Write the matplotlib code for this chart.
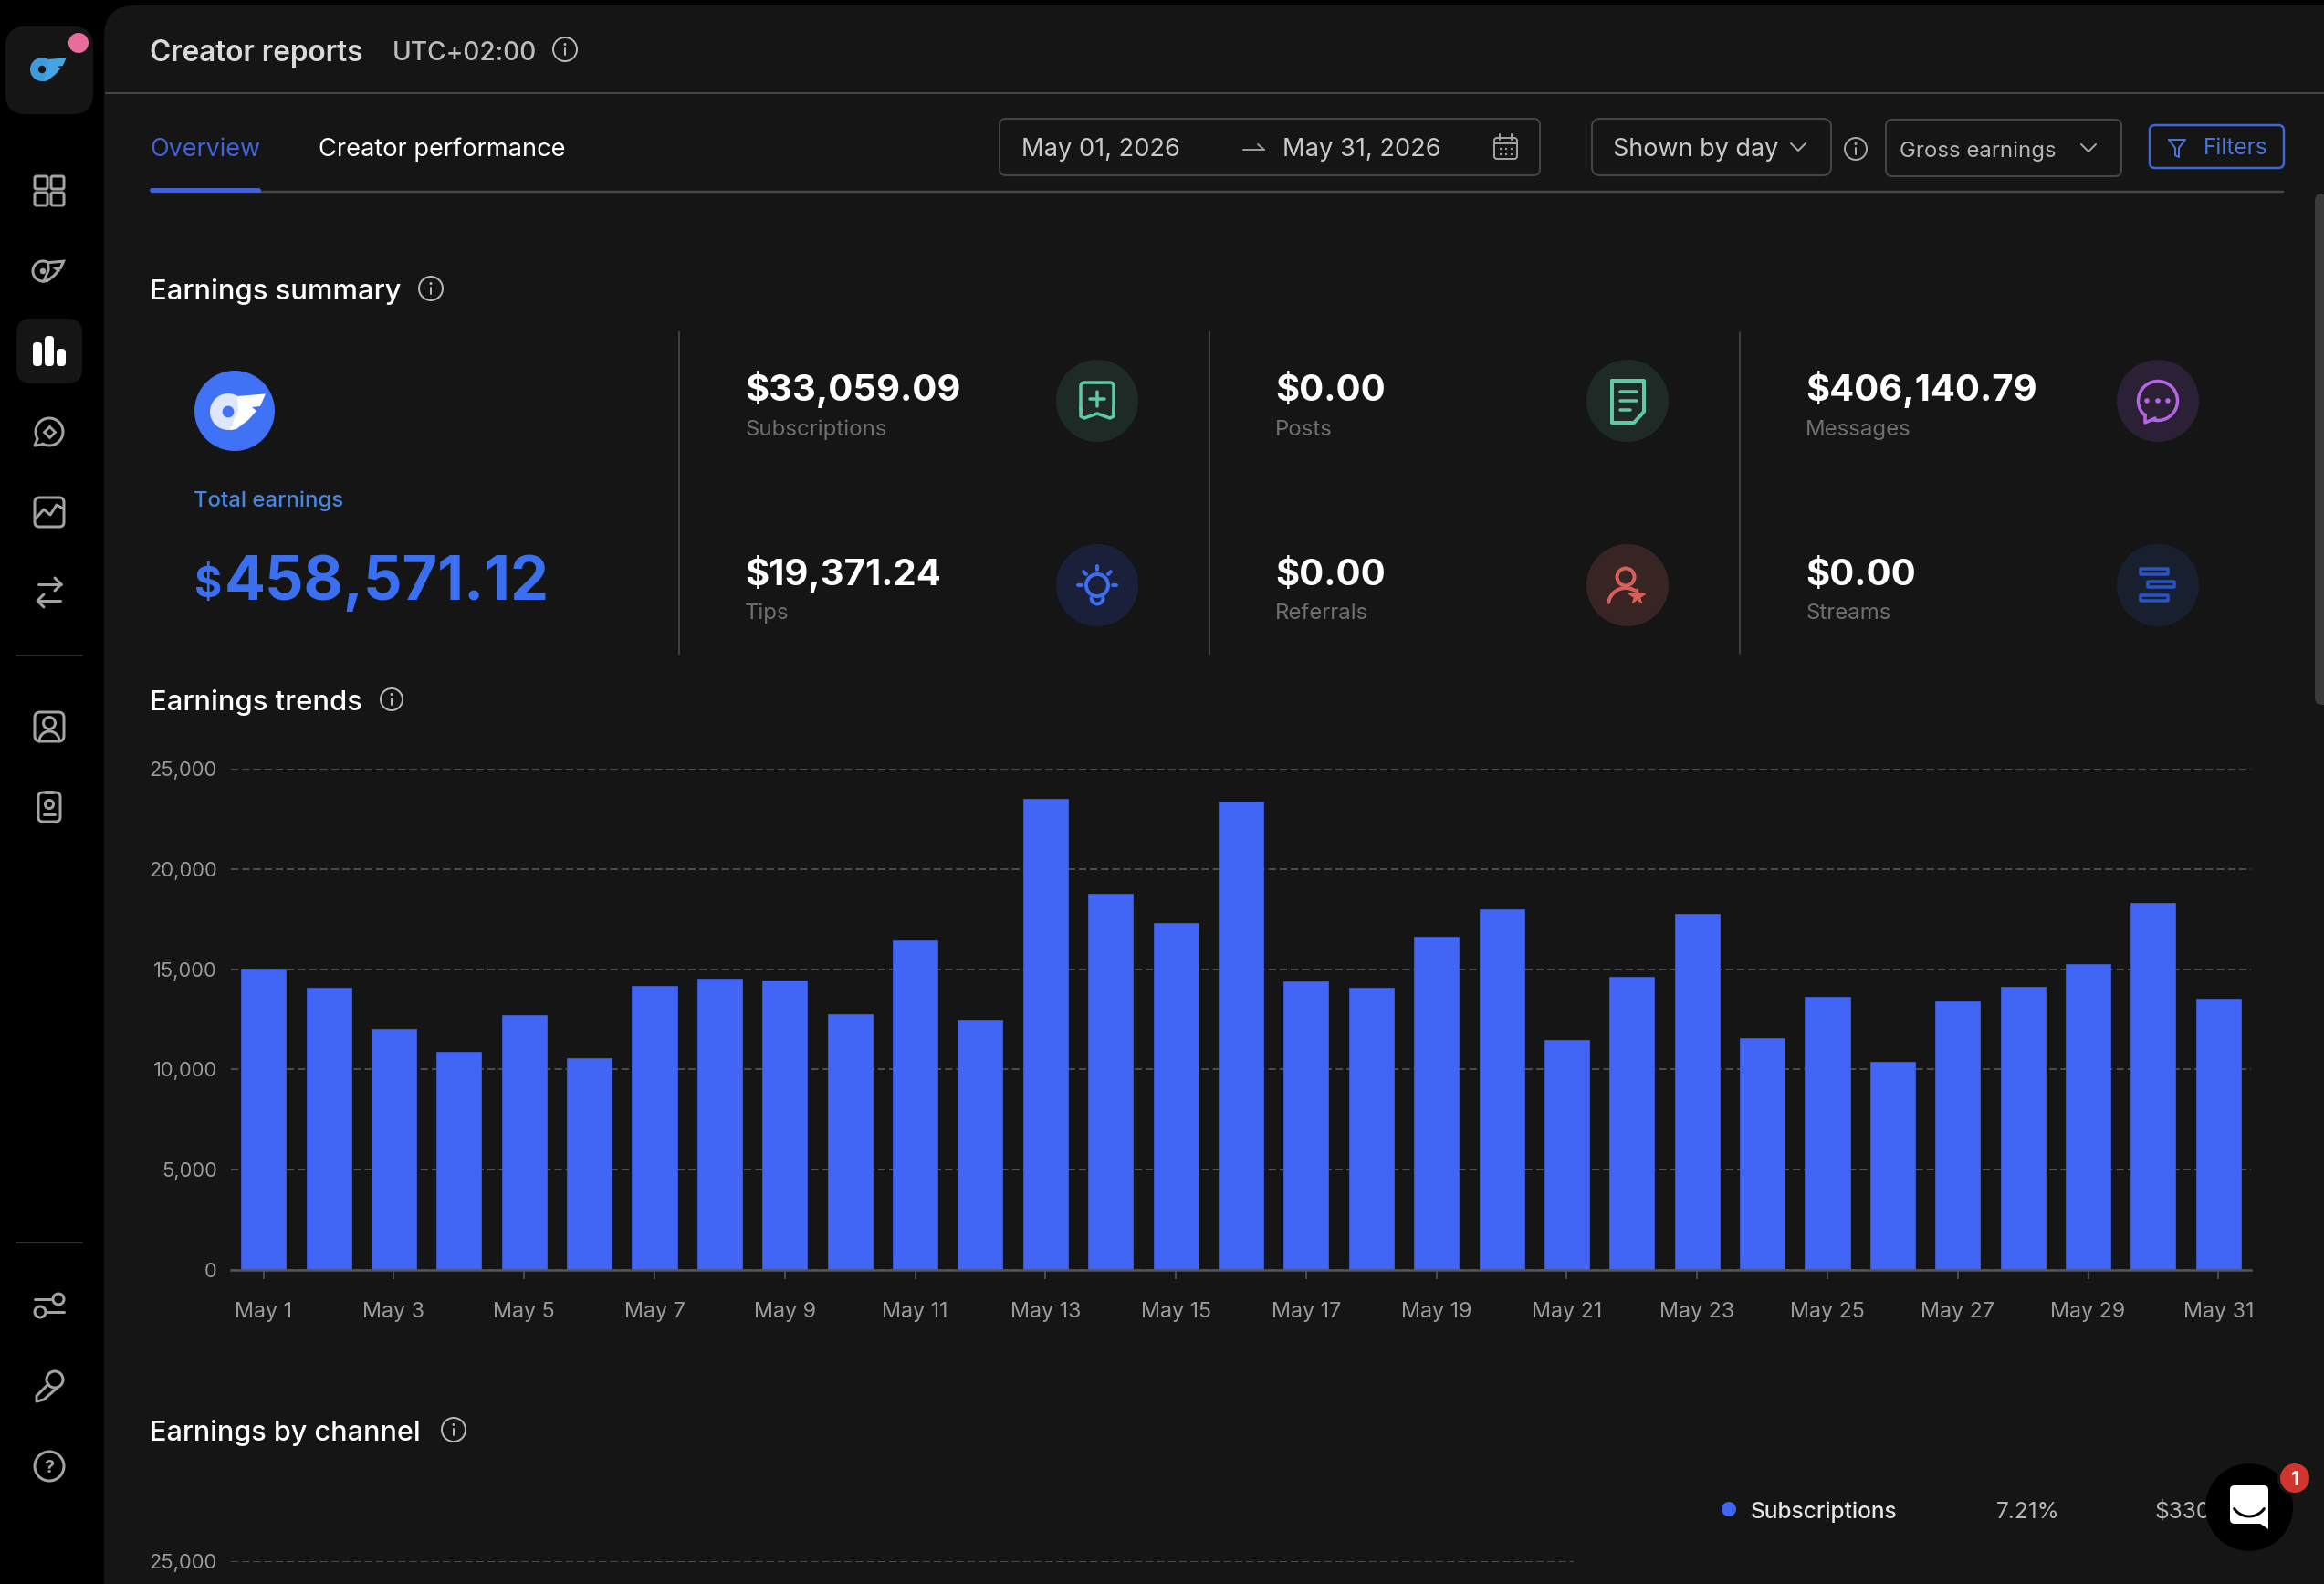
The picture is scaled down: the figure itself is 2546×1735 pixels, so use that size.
import matplotlib
matplotlib.use('Agg')
import numpy as np
from matplotlib import pyplot as plt
from matplotlib import patches

plt.rcParams['font.family'] = ['Inter', 'DejaVu Sans']

# chart data
days = ['May %d' % d for d in range(1, 32)]
earnings = [15015, 14088, 12024, 10886, 12694, 10581, 14165, 14528, 14452, 12766, 16428,
            12480, 23487, 18751, 17321, 23351, 14392, 14060, 16638, 17990, 11477, 14607,
            17750, 11555, 13618, 10371, 13449, 14119, 15245, 18309, 13527]
y_ticks = [0, 5000, 10000, 15000, 20000, 25000]
channel_ticks = [25000]

# summary cards
col1_values = ['$33,059.09', '$19,371.24']
col1_labels = ['Subscriptions', 'Tips']
col2_values = ['$0.00', '$0.00']
col2_labels = ['Posts', 'Referrals']
col3_values = ['$406,140.79', '$0.00']
col3_labels = ['Messages', 'Streams']

W, H = 2546, 1735
BG = '#151516'
BLUE = '#4165f5'
GRAY = '#a3a3a3'
BORDER = '#454545'

fig = plt.figure(figsize=(W / 100, H / 100), dpi=100, facecolor='black')
ui = fig.add_axes([0, 0, 1, 1])
ui.set_xlim(0, W)
ui.set_ylim(H, 0)
ui.axis('off')
ui.autoscale(False)


def rrect(x0, y0, x1, y1, r, fc='none', ec='none', lw=2, z=2):
    ui.add_patch(patches.FancyBboxPatch((x0, y0), x1 - x0, y1 - y0,
                                        boxstyle='round,pad=0,rounding_size=%g' % r,
                                        fc=fc, ec=ec, lw=lw * 0.72, zorder=z))


def circle(x, y, r, fc='none', ec='none', lw=2, z=2):
    ui.add_patch(patches.Circle((x, y), r, fc=fc, ec=ec, lw=lw * 0.72, zorder=z))


def line(xs, ys, c=GRAY, lw=3, z=3):
    ui.plot(xs, ys, color=c, lw=lw * 0.72, solid_capstyle='round', solid_joinstyle='round', zorder=z)


def label(x, y, s, px, c='white', weight='normal', ha='left', z=4, va='center_baseline'):
    ui.text(x, y, s, fontsize=px * 0.72, color=c, fontweight=weight, ha=ha, va=va, zorder=z)


def arc(x, y, r, a0, a1, c=GRAY, lw=3, z=3):
    t = np.radians(np.linspace(a0, a1, 40))
    line(x + r * np.cos(t), y + r * np.sin(t), c, lw, z)


def info(x, y, r=12, c='#b8b8b8'):
    circle(x, y, r, ec=c, lw=2)
    line([x, x], [y - 1, y + 6], c, 2)
    circle(x, y - 5.5, 1.5, fc=c)


def chevron(x, y, c='#a8a8a8'):
    line([x - 8, x, x + 8], [y - 4, y + 4, y - 4], c, 2)


def of_logo(cx, cy, s, c1, c2, hole, outline=False):
    # ring plus wing, (cx, cy) is the ring centre and s its radius
    wing = [(0.5, -0.85), (2.05, -0.98), (1.75, -0.3), (1.3, -0.25), (1.55, -0.05),
            (1.1, 0.45), (0.45, 0.95), (0.1, 1.0), (0.55, -0.1)]
    pts = [(cx + a * s, cy + b * s) for a, b in wing]
    if outline:
        circle(cx, cy, s, ec=c1, lw=3)
        ui.add_patch(patches.Polygon(pts, fc='black', ec=c2, lw=2.2, zorder=3))
        circle(cx, cy, 0.3 * s, fc=c1, z=4)
        return
    circle(cx, cy, s, fc=c1, z=3)
    ui.add_patch(patches.Polygon(pts, fc=c2, ec='none', zorder=3))
    circle(cx, cy, 0.32 * s, fc=hole, z=4)


# panel and chrome
rrect(114, 6, W + 40, H + 40, 34, fc=BG)
line([116, W], [102, 102], '#474747', 2)
line([166, 2501], [210, 210], '#474747', 2.5)
line([166, 283], [208, 208], '#4361d8', 5)
rrect(2536, 212, W + 10, 772, 8, fc='#3a3a3b')

# sidebar
rrect(6, 29, 102, 125, 22, fc=BG)
circle(86, 47, 11, fc='#e86c9f', z=3)
of_logo(46, 76, 13, '#3f9bdc', '#45a5e4', BG)

for gx in (38, 56):
    for gy in (193, 211):
        rrect(gx, gy, gx + 14, gy + 14, 2, ec=GRAY, lw=3)

of_logo(47, 297, 11, GRAY, GRAY, 'black', outline=True)

rrect(18, 349, 90, 420, 16, fc=BG)
rrect(36, 375, 46, 401, 4, fc='white')
rrect(49, 368, 59, 401, 4, fc='white')
rrect(62, 382, 72, 401, 4, fc='white')

arc(54, 473, 15, -210, 120)
line([41, 38, 46], [481, 488, 487], GRAY, 3)
ui.plot([54], [473], marker='D', ms=6, mec=GRAY, mfc='none', mew=2, zorder=3)

rrect(38, 545, 70, 577, 5, ec=GRAY, lw=3)
line([39, 48, 55, 62, 69], [568, 558, 564, 553, 557], GRAY, 3)

line([42, 67], [640, 640], GRAY, 3)
line([60, 67, 60], [633, 640, 647], GRAY, 3)
line([41, 66], [658, 658], GRAY, 3)
line([48, 41, 48], [651, 658, 665], GRAY, 3)

line([18, 90], [718, 718], '#2b2b2b', 2)

rrect(38, 780, 70, 812, 6, ec=GRAY, lw=3)
circle(54, 792, 6.5, ec=GRAY, lw=3)
arc(54, 812, 11, 180, 360)
rrect(42, 868, 66, 900, 5, ec=GRAY, lw=3)
circle(54, 881, 4.5, ec=GRAY, lw=3)
line([48, 60], [892, 892], GRAY, 3)
line([50, 58], [868, 868], GRAY, 4)

line([18, 90], [1361, 1361], '#2b2b2b', 2)
line([38, 56], [1423, 1423], GRAY, 3)
circle(64, 1423, 6, ec=GRAY, lw=3)
line([52, 70], [1437, 1437], GRAY, 3)
circle(44, 1437, 6, ec=GRAY, lw=3)
circle(60, 1511, 9, ec=GRAY, lw=3)
line([53, 40, 40, 48, 64], [1516, 1529, 1535, 1533, 1519], GRAY, 3)
circle(54, 1606, 16, ec=GRAY, lw=3)
label(54, 1606, '?', 20, GRAY, 'bold', 'center')

# header
label(164, 55, 'Creator reports', 31.5, '#dadada', 'semibold')
label(430, 55, 'UTC+02:00', 28, '#bcbcbc', 'medium')
info(619, 54, 13)
label(164, 161, 'Overview', 27, '#4361d8')
label(349, 161, 'Creator performance', 27.2, 'white')

# filter row
rrect(1095, 130, 1687, 192, 7, ec=BORDER, lw=2)
label(1119, 161, 'May 01, 2026', 27.3, '#c9c9c9')
line([1362, 1385], [164, 164], '#9a9a9a', 2)
line([1378, 1385], [158, 164], '#9a9a9a', 2)
label(1405, 161, 'May 31, 2026', 27.3, '#c9c9c9')
rrect(1637, 151, 1662, 174, 3, ec='#a0a0a0', lw=2)
line([1637, 1662], [157, 157], '#a0a0a0', 2)
line([1643, 1643], [147, 153], '#a0a0a0', 2)
line([1656, 1656], [147, 153], '#a0a0a0', 2)
for dx in (1644, 1650, 1656):
    for dy in (163, 169):
        circle(dx, dy, 1.2, fc='#a0a0a0')

rrect(1744, 130, 2006, 192, 9, ec=BORDER, lw=2)
label(1767, 161, 'Shown by day', 27, '#c9c9c9')
chevron(1970, 161)
info(2033, 163, 12, '#a8a8a8')
rrect(2066, 131, 2324, 193, 7, ec=BORDER, lw=2)
label(2081, 163, 'Gross earnings', 24, '#b5b5b5')
chevron(2288, 162)
rrect(2355, 137, 2502, 184, 6, ec='#3f66d8', lw=2.5)
line([2376, 2394, 2387, 2387, 2383, 2383, 2376], [153, 153, 162, 172, 170, 162, 153], '#4a74d8', 2)
label(2414, 160, 'Filters', 24.5, '#4a74d8')

# earnings summary
label(164, 316, 'Earnings summary', 31, 'white', 'medium')
info(472, 316, 13)
for vx in (744, 1325, 1906):
    line([vx, vx], [364, 716], '#3f3f3f', 2)

circle(257, 450, 44, fc='#3f72f5')
of_logo(250, 451, 20, '#dfe7fd', 'white', '#3f72f5')
label(212, 546, 'Total earnings', 24, '#4a86e0', 'medium')
label(213, 637, '$', 46, '#3a6ff0', 'bold')
label(246, 632, '458,571.12', 66.6, '#3a6ff0', 'bold')

rows_y = [438.5, 640.5]
labels_y = [468, 669]
for cx, vals, labs in ((816, col1_values, col1_labels), (1397, col2_values, col2_labels),
                       (1978, col3_values, col3_labels)):
    for vy, ly, v, t in zip(rows_y, labels_y, vals, labs):
        label(cx, vy, v, 40, 'white', 'bold', va='baseline')
        label(cx, ly, t, 24, '#707070')

circle(1202, 439, 45, fc='#1e2a26')
circle(1783, 439, 45, fc='#1e2a26')
circle(2364, 439, 45, fc='#2b2035')
circle(1202, 641, 45, fc='#1a2039')
circle(1783, 641, 45, fc='#372423')
circle(2364, 641, 45, fc='#18202f')

TEAL = '#5ec9a6'
rrect(1184, 419, 1220, 452, 4, ec=TEAL, lw=3.5, z=3)
ui.add_patch(patches.Rectangle((1186, 446), 32, 14, fc='#1e2a26', ec='none', zorder=3))
line([1184, 1184, 1188, 1202, 1216, 1220, 1220], [446, 456, 458, 453, 458, 456, 446], TEAL, 3.5, z=4)
line([1202, 1202], [429, 445], TEAL, 3.5)
line([1194, 1210], [437, 437], TEAL, 3.5)

line([1766, 1801, 1801, 1790, 1766, 1766], [417, 417, 451, 463, 463, 417], TEAL, 4)
line([1775, 1793], [429, 429], TEAL, 3.5)
line([1775, 1793], [439, 439], TEAL, 3.5)
line([1775, 1786], [449, 449], TEAL, 3.5)

PURPLE = '#b564e6'
arc(2364, 439, 21.5, -230, 105, PURPLE, 3.5)
line([2350, 2350, 2361], [454, 463, 458], PURPLE, 3.5)
for dx in (2352, 2364, 2375):
    circle(dx, 439, 2.8, fc=PURPLE, z=3)

BULB = '#3f6df0'
circle(1202, 641, 12, ec=BULB, lw=4)
arc(1202, 655, 6.5, 0, 180, BULB, 4)
for ang in (-180, -135, -90, -45, 0):
    t = np.radians(ang)
    line([1202 + 17 * np.cos(t), 1202 + 21 * np.cos(t)], [641 + 17 * np.sin(t), 641 + 21 * np.sin(t)], BULB, 4)

RED = '#d95f57'
circle(1781, 632, 9.5, ec=RED, lw=4)
arc(1781, 663, 19, 190, 300, RED, 4)
ui.plot([1793], [653], marker='*', ms=13, mfc=RED, mec=RED, zorder=3)

STREAM = '#2a53c8'
rrect(2345, 623, 2375, 629, 0.5, ec=STREAM, lw=3.5)
rrect(2353, 637, 2382, 643, 0.5, ec=STREAM, lw=3.5)
rrect(2345, 652, 2375, 658, 0.5, ec=STREAM, lw=3.5)

# section titles
label(164, 766, 'Earnings trends', 31, 'white', 'medium')
info(429, 766, 12)
label(164, 1566, 'Earnings by channel', 30.6, 'white', 'medium')
info(497, 1566, 13)

# legend row that sits under the chat button
circle(1894, 1653, 8, fc=BLUE)
label(1918, 1654, 'Subscriptions', 24.5, '#e6e6e6', 'medium')
label(2187, 1654, '7.21%', 24.5, '#b8b8b8')
label(2361, 1654, '$330', 24.5, '#b8b8b8')

circle(2464, 1651, 48, fc='black', z=6)
rrect(2443, 1627, 2485, 1669, 5, fc='white', z=7)
ui.add_patch(patches.Polygon([(2472, 1666), (2485, 1666), (2485, 1675)], fc='white', ec='none', zorder=7))
arc(2464, 1641, 20, 35, 145, 'black', 3, z=8)
circle(2514, 1619, 19, fc=BG, z=7)
circle(2514, 1619, 16, fc='#d0362e', z=8)
label(2514, 1619, '1', 22, 'white', 'bold', 'center', z=9)


def px_axes(x0, y0, x1, y1):
    # axes from pixel corners, y measured from the top
    ax = fig.add_axes([x0 / W, 1 - y1 / H, (x1 - x0) / W, (y1 - y0) / H])
    ax.patch.set_alpha(0)
    for s in ax.spines.values():
        s.set_visible(False)
    return ax


grid_style = dict(color='#5e5e5e', lw=1.1, ls=(0, (5.3, 2.7)))

# earnings trends chart
ax = px_axes(253, 842, 2466, 1391)
pos = np.arange(len(days))
ax.bar(pos, earnings, width=0.687, color=BLUE, edgecolor='#3f5bd0', linewidth=0.6, zorder=3)
ax.set_xlim(-0.5, 30.5)
ax.set_ylim(0, 25000)
ax.set_yticks(y_ticks, ['{:,}'.format(v) for v in y_ticks])
ax.set_xticks(pos[::2], days[::2])
ax.grid(axis='y', zorder=0, **grid_style)
ax.set_axisbelow(True)
ax.spines['bottom'].set_visible(True)
ax.spines['bottom'].set_color('#555555')
ax.spines['bottom'].set_linewidth(1.8)
ax.spines['bottom'].set_zorder(4)
ax.tick_params(axis='x', length=7, width=1.2, color='#555555', labelcolor='#9a9a9a', labelsize=16.8, pad=18)
ax.tick_params(axis='y', length=0, labelcolor='#9a9a9a', labelsize=15.8, pad=11)

# top edge of the earnings by channel chart, cut off by the window
ax2 = px_axes(253, 1710, 1724, 1735)
ax2.set_ylim(22000, 25000)
ax2.set_xlim(0, 1)
ax2.set_xticks([])
ax2.set_yticks(channel_ticks, ['{:,}'.format(v) for v in channel_ticks])
ax2.get_yticklabels()[0].set_clip_on(False)
ax2.grid(axis='y', **grid_style)
ax2.tick_params(axis='y', length=0, labelcolor='#9a9a9a', labelsize=15.8, pad=11)

fig.savefig('out.png', dpi=100, facecolor='black')
